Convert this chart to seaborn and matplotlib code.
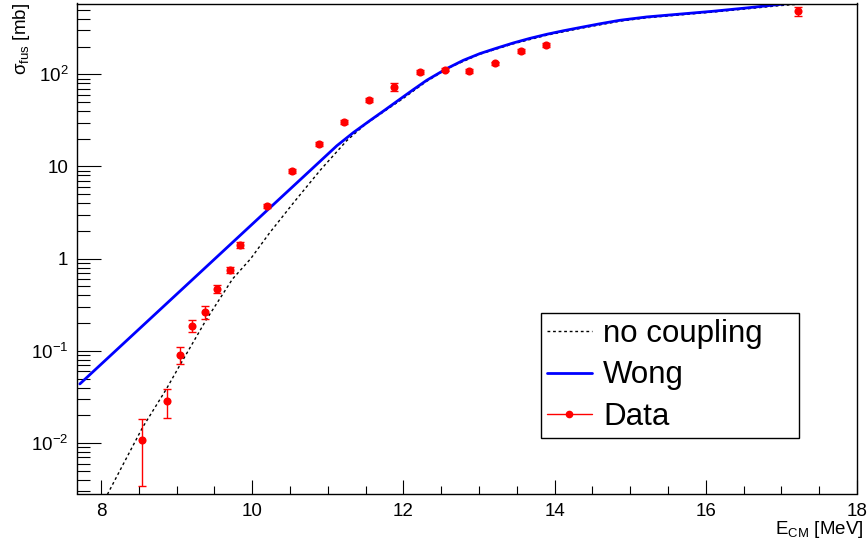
import numpy as np
import pandas as pd
import matplotlib
matplotlib.use("Agg")
import matplotlib.pyplot as plt
import seaborn as sns
from matplotlib.lines import Line2D
from matplotlib.ticker import FixedLocator, FuncFormatter, LogLocator, NullFormatter, MultipleLocator

# ---------------- data ----------------
wong_e = [7.72, 8.5, 9.3, 10.1, 10.7, 11.12, 11.34, 11.56, 11.75, 11.933, 12.131, 12.308,
          12.573, 12.793, 13.013, 13.234, 13.454, 13.675, 13.896, 14.115, 14.336, 14.6,
          14.865, 15.218, 15.659, 16.099, 16.541, 16.981, 17.09]
wong_sigma = [0.0438, 0.1714, 0.695, 2.82, 8.05, 16.8, 23.4, 31.6, 40.7, 52.2, 68.2, 86.1,
              115.3, 141.9, 167.9, 192.3, 218.8, 245.5, 271.6, 296.5, 321.4, 353.2,
              385.5, 418.8, 449.8, 483.1, 524.8, 572.8, 586.1]

nocoup_e = [8.05, 8.3, 8.55, 8.86, 9.04, 9.39, 9.74, 9.98, 10.23, 10.55, 10.9, 11.25,
            11.5, 11.75, 12.0, 12.3, 12.6, 13.0, 13.45, 13.9, 14.34, 14.87, 15.22, 15.66,
            16.1, 16.54, 16.98, 17.23]
nocoup_sigma = [0.00245, 0.00603, 0.01479, 0.0380, 0.0692, 0.2163, 0.6026, 1.0, 1.905,
                4.074, 9.12, 19.05, 28.84, 39.81, 54.95, 83.18, 117.5, 164.1, 213.8, 266.1,
                314.8, 377.6, 410.2, 440.6, 473.2, 512.9, 555.9, 575.4]

data_e = [8.543, 8.870, 9.042, 9.201, 9.373, 9.532, 9.705, 9.845, 10.195, 10.52, 10.878,
          11.209, 11.546, 11.872, 12.216, 12.547, 12.874, 13.21, 13.554, 13.885, 17.214]
data_sigma = [0.0109, 0.0288, 0.091, 0.188, 0.264, 0.470, 0.762, 1.41, 3.72, 8.9, 17.5,
              30.4, 52.6, 72.8, 106.0, 112.0, 108.6, 132.6, 179.0, 208.0, 483.0]
data_err = [0.0075, 0.0100, 0.019, 0.029, 0.040, 0.047, 0.055, 0.10, 0.20, 0.4, 0.8,
            1.3, 2.5, 7.5, 4.5, 4.5, 4.5, 5.0, 7.0, 8.0, 55.0]

x_ticks = [8, 10, 12, 14, 16, 18]
y_tick_labels = {0.01: r"$10^{-2}$", 0.1: r"$10^{-1}$", 1.0: "1", 10.0: "10", 100.0: r"$10^{2}$"}
legend_labels = ["no coupling", "Wong", "Data"]

# ---------------- style ----------------
sns.set_style("ticks")
plt.rcParams["font.family"] = ["Liberation Sans", "DejaVu Sans"]
plt.rcParams["mathtext.default"] = "regular"
plt.rcParams["mathtext.fontset"] = "custom"
plt.rcParams["mathtext.rm"] = "Liberation Sans"
plt.rcParams["text.color"] = "black"
plt.rcParams["axes.labelcolor"] = "black"
plt.rcParams["xtick.color"] = "black"
plt.rcParams["ytick.color"] = "black"

W, H = 867, 545
fig = plt.figure(figsize=(W / 100, H / 100), dpi=100)
L, R, T, B = 76.5, 857, 3.5, 493.5
ax = fig.add_axes([L / W, 1 - B / H, (R - L) / W, (B - T) / H])

df_w = pd.DataFrame({"E": wong_e, "sigma": wong_sigma})
df_n = pd.DataFrame({"E": nocoup_e, "sigma": nocoup_sigma})
df_d = pd.DataFrame({"E": data_e, "sigma": data_sigma, "err": data_err})

dash = (0, (2.0, 2.0))
sns.lineplot(data=df_n, x="E", y="sigma", ax=ax, color="black", lw=1.0,
             linestyle=dash, sort=False, estimator=None)
sns.lineplot(data=df_w, x="E", y="sigma", ax=ax, color="#0000ff", lw=2.0,
             sort=False, estimator=None)
ax.errorbar(df_d["E"], df_d["sigma"], yerr=df_d["err"], fmt="none", ecolor="#ff0000",
            elinewidth=1.0, capsize=3, capthick=1.0, zorder=4)
sns.scatterplot(data=df_d, x="E", y="sigma", ax=ax, color="#ff0000", s=34,
                marker="o", edgecolor="#ff0000", linewidth=0, zorder=5)

ax.set_yscale("log")
ax.set_xlim(7.676, 18.0)
ax.set_ylim(0.00284, 586)

ax.xaxis.set_major_locator(FixedLocator(x_ticks))
ax.xaxis.set_minor_locator(MultipleLocator(0.5))
ax.yaxis.set_major_locator(FixedLocator(list(y_tick_labels.keys())))
ax.yaxis.set_major_formatter(FuncFormatter(lambda v, p: y_tick_labels.get(round(v, 6), "")))
ax.yaxis.set_minor_locator(LogLocator(base=10, subs=np.arange(2, 10), numticks=20))
ax.yaxis.set_minor_formatter(NullFormatter())

ax.tick_params(axis="both", which="both", direction="in", width=0.8, colors="black",
               labelcolor="black", labelsize=13.5, top=False, right=False)
ax.tick_params(axis="x", which="major", length=10, pad=7)
ax.tick_params(axis="x", which="minor", length=5.5)
ax.tick_params(axis="y", which="major", length=17, pad=6)
ax.tick_params(axis="y", which="minor", length=9)
for s in ax.spines.values():
    s.set_linewidth(1.0)
    s.set_color("black")
    s.set_visible(True)

ax.set_xlabel("")
ax.set_ylabel("")
fig.text(22 / W, 1 - 3 / H, r"σ$_{fus}$ [mb]", rotation=90, ha="center", va="top",
         fontsize=13.5, color="black")
fig.text(863 / W, 1 - 519.5 / H, r"E$_{CM}$ [MeV]", ha="right", va="top", fontsize=13.5,
         color="black")

handles = [
    Line2D([], [], color="black", lw=1.0, linestyle=dash),
    Line2D([], [], color="#0000ff", lw=2.0),
    Line2D([], [], color="#ff0000", lw=1.0, marker="o", markersize=4.5),
]
leg = ax.legend(handles, legend_labels, loc="upper left", mode="expand",
                bbox_to_anchor=(541 / W, 1 - 438 / H, 258 / W, 125 / H),
                bbox_transform=fig.transFigure, fontsize=22.5, frameon=True,
                fancybox=False, edgecolor="black", framealpha=1.0, labelcolor="black",
                handlelength=1.44, handletextpad=0.35, labelspacing=0.37,
                borderpad=0.19, borderaxespad=0.0)
leg.get_frame().set_linewidth(1.0)

fig.savefig("out.png", dpi=100)
